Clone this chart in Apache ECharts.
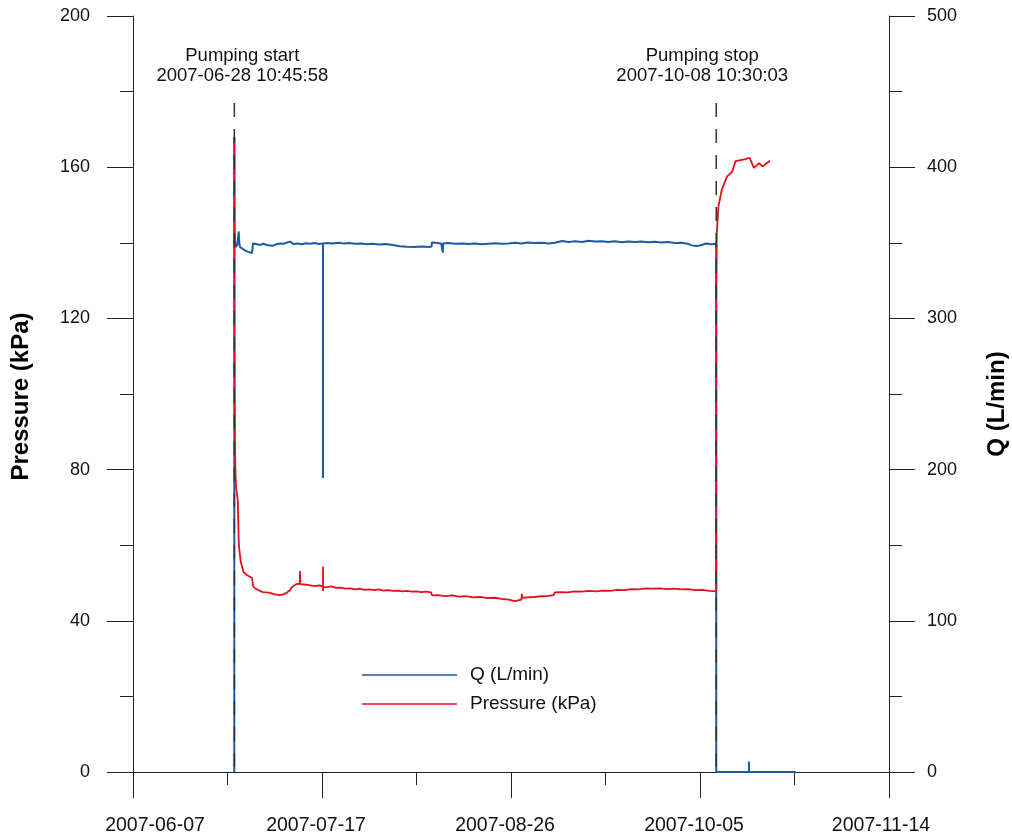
<!DOCTYPE html>
<html>
<head>
<meta charset="utf-8">
<title>Pumping test – pressure and flow</title>
<script src="https://cdn.jsdelivr.net/npm/echarts@6/dist/echarts.min.js"></script>
<style>
  html, body { margin: 0; padding: 0; background: #fff; }
  #chart { width: 1012px; height: 839px; }
</style>
</head>
<body>
<div id="chart"></div>
<script>
// Time is expressed in days since the axis origin (2007-06-07 00:00).
const originDate = '2007-06-07 00:00:00';
const dateTicks = ['2007-06-07', '2007-07-17', '2007-08-26', '2007-10-05', '2007-11-14'];

const events = ['Pumping start', 'Pumping stop'];
const eventTimes = ['2007-06-28 10:45:58', '2007-10-08 10:30:03'];

// Flow rate Q (L/min)
const qDays = [21.440, 21.445, 21.50, 21.59, 21.80, 22.10, 22.37, 22.50, 22.65, 23.2, 23.7, 24.4, 25.19, 25.40,
  26.0, 26.9, 27.6, 28.5, 29.5, 30.3, 31.1, 31.9, 32.6, 33.3, 33.9, 34.8, 35.7, 36.6, 37.5, 38.4, 39.3,
  40.20, 40.21, 40.22, 41.2, 42.3, 43.5, 44.6, 45.8, 47.0, 48.3, 49.5, 50.7, 52.0, 53.4, 55.0, 56.5, 58.0,
  59.5, 61.0, 62.6, 63.20, 63.25, 64.0, 65.2, 65.55, 65.58, 65.62, 66.8, 68.2, 69.6, 71.0, 72.4, 73.8,
  75.2, 76.6, 78.0, 79.4, 80.8, 82.2, 83.6, 85.0, 86.5, 88.0, 89.3, 89.5, 90.8, 92.2, 93.6, 95.0, 96.4,
  97.8, 99.2, 100.6, 102.0, 103.4, 104.8, 106.2, 107.6, 109.0, 110.4, 111.8, 113.2, 114.6, 116.0, 117.4,
  118.2, 119.2, 120.0, 120.4, 121.3, 122.3, 123.43, 123.44, 130.35, 130.36, 130.37, 140.3];
const qFlow = [0, 420, 360, 350.5, 347.2, 349, 357.5, 350, 347.2, 346, 345, 344, 343.3, 349.6,
  349.2, 348.6, 349.4, 348.3, 348.0, 349.0, 349.6, 349.3, 350.2, 350.8, 349.2, 349.6, 349.1, 349.7, 349.3, 349.8, 349.2,
  349.6, 194.4, 349.5, 349.9, 349.5, 350.1, 349.6, 349.9, 349.3, 349.6, 349.1, 349.4, 348.9, 349.2, 348.6, 347.7, 347.4,
  347.2, 347.6, 347.3, 347.5, 350.2, 350.0, 349.6, 349.8, 343.5, 349.5, 349.8, 349.3, 349.6, 349.2, 349.5, 349.0,
  349.4, 349.7, 349.3, 349.6, 350.0, 349.6, 350.2, 349.8, 350.0, 349.6, 350.0, 350.9, 351.2, 350.6, 351.0, 350.5, 351.3,
  350.8, 351.1, 350.6, 351.0, 350.4, 350.9, 350.5, 350.8, 350.3, 350.7, 350.2, 350.5, 349.9, 350.1, 349.4,
  348.3, 347.9, 348.2, 349.3, 349.5, 349.0, 349.3, 0, 0, 7, 0, 0];

// Pressure (kPa)
const pDays = [21.440, 21.455, 21.47, 21.52, 21.59, 21.70, 21.80, 22.0, 22.2, 22.35, 22.45, 22.8, 23.1, 23.4,
  24.0, 24.5, 25.2, 25.4, 25.8, 26.2, 26.9, 27.5, 28.3, 29.0, 30.0, 31.0, 31.8, 32.5, 33.2, 33.5, 33.8, 34.5,
  35.3, 35.35, 35.40, 36.2, 37.0, 37.4, 37.8, 38.6, 39.4, 40.20, 40.21, 40.22, 40.23, 41.0, 42.0, 43.0, 44.0,
  45.0, 46.0, 47.0, 48.0, 49.0, 50.0, 51.0, 52.0, 53.0, 54.0, 55.0, 56.0, 57.0, 58.0, 59.0, 60.0, 61.0, 62.0,
  63.1, 63.3, 64.5, 66.0, 67.5, 69.0, 70.5, 72.0, 73.5, 75.0, 76.5, 78.0, 79.5, 80.8, 81.5, 82.2, 82.3, 82.4,
  83.5, 85.0, 86.5, 88.0, 89.0, 89.3, 90.5, 92.0, 93.5, 95.0, 96.5, 98.0, 99.5, 101.0, 102.5, 104.0, 105.5,
  107.0, 108.5, 110.0, 111.5, 113.0, 114.5, 116.0, 117.5, 119.0, 120.5, 122.0, 123.43, 123.44, 123.45, 123.55,
  123.9, 124.6, 125.7, 126.8, 127.5, 128.3, 129.4, 130.5, 131.4, 132.5, 133.2, 134.8];
const pKpa = [168, 150, 125, 100, 84.4, 79, 75.4, 73.5, 71.5, 62, 59.5, 55.6, 54.2, 52.9,
  52.2, 51.8, 51.4, 49.2, 48.6, 48.1, 47.9, 47.6, 47.5, 47.4, 47.0, 46.8, 47.0, 47.4, 48.1, 48.7, 49.1, 49.7,
  49.8, 53.2, 49.7, 49.6, 49.5, 49.9, 49.3, 49.2, 49.4, 49.1, 54.3, 47.9, 49.0, 48.9, 49.1, 48.7, 48.8,
  48.5, 48.6, 48.3, 48.5, 48.2, 48.3, 48.1, 48.3, 48.0, 48.1, 47.9, 48.0, 47.8, 47.9, 47.7, 47.8, 47.6, 47.7,
  47.5, 46.7, 46.8, 46.5, 46.7, 46.4, 46.5, 46.2, 46.3, 46.0, 46.1, 45.8, 45.6, 45.2, 45.4, 45.6, 47.1, 46.1,
  46.2, 46.3, 46.5, 46.6, 46.8, 47.5, 47.6, 47.5, 47.8, 47.7, 47.9, 47.8, 48.0, 47.9, 48.2, 48.1, 48.4,
  48.3, 48.6, 48.5, 48.6, 48.4, 48.5, 48.3, 48.4, 48.1, 48.2, 47.9, 47.8, 100, 130, 142.6,
  149.6, 154.0, 157.5, 158.8, 161.6, 161.8, 162.1, 162.5, 159.8, 161.1, 160.2, 161.7];

const dashTop = 177; // top of the event marker lines, kPa

function toMs(s) {
  const [d, t] = s.split(' ');
  const [y, m, dd] = d.split('-').map(Number);
  const [hh, mm, ss] = t.split(':').map(Number);
  return Date.UTC(y, m - 1, dd, hh, mm, ss);
}
function toDays(s) {
  return (toMs(s) - toMs(originDate)) / 86400000;
}
function zip(a, b) { return a.map((v, i) => [v, b[i]]); }

const FONT = '"Liberation Sans", Arial, sans-serif';
const BLUE = '#1f5aa6';
const RED = '#e3101c';

const eventOffsets = [[8, 0], [-14, 0]];
const eventSeries = events.map((name, i) => {
  const d = toDays(eventTimes[i]);
  return {
    name: name,
    type: 'line',
    yAxisIndex: 0,
    silent: true,
    z: 5,
    symbol: 'none',
    showSymbol: false,
    lineStyle: { color: '#333', width: 1.5, type: [14, 12] },
    data: [[d, dashTop], [d, 0]],
    markPoint: {
      silent: true,
      symbol: 'circle',
      symbolSize: 1,
      itemStyle: { color: 'rgba(0,0,0,0)' },
      data: [{
        coord: [d, dashTop],
        label: {
          show: true,
          position: 'top',
          distance: 17,
          offset: eventOffsets[i],
          formatter: name + '\n' + eventTimes[i],
          color: '#111',
          fontFamily: FONT,
          fontSize: 18.5,
          lineHeight: 20,
          align: 'center'
        }
      }]
    }
  };
});

const axisCommon = {
  axisLine: { show: true, onZero: false, lineStyle: { color: '#222', width: 1 } },
  axisTick: { show: true, inside: false, length: 26, lineStyle: { color: '#222', width: 1 } },
  minorTick: { show: true, splitNumber: 2, length: 13, lineStyle: { color: '#222', width: 1 } },
  splitLine: { show: false },
  minorSplitLine: { show: false }
};

const dateLabelStyle = { fontFamily: FONT, fontSize: 19.5, color: '#111' };

const chart = echarts.init(document.getElementById('chart'), null, { renderer: 'canvas' });
chart.setOption({
  animation: false,
  backgroundColor: '#fff',
  grid: { left: 133, right: 123, top: 16, bottom: 67, containLabel: false, outerBoundsMode: 'none' },
  legend: {
    data: ['Q (L/min)', 'Pressure (kPa)'],
    orient: 'vertical',
    left: 362,
    top: 665,
    padding: 0,
    itemGap: 9,
    icon: 'rect',
    itemWidth: 95,
    itemHeight: 1.3,
    textStyle: { fontFamily: FONT, fontSize: 19, color: '#111', lineHeight: 20, padding: [0, 0, 0, 8] }
  },
  xAxis: Object.assign({}, axisCommon, {
    type: 'value',
    min: 0,
    max: 160,
    interval: 40,
    axisLabel: {
      margin: 44,
      color: '#111',
      fontFamily: FONT,
      fontSize: 19.5,
      formatter: v => {
        const i = Math.round(v / 40);
        const txt = dateTicks[i] || '';
        return i === 0 ? '{first|' + txt + '}' : (i === dateTicks.length - 1 ? '{last|' + txt + '}' : '{mid|' + txt + '}');
      },
      rich: {
        first: Object.assign({ padding: [0, 0, 0, 44] }, dateLabelStyle),
        mid: Object.assign({ padding: [0, 12, 0, 0] }, dateLabelStyle),
        last: Object.assign({ padding: [0, 16, 0, 0] }, dateLabelStyle)
      }
    }
  }),
  yAxis: [
    Object.assign({}, axisCommon, {
      type: 'value',
      position: 'left',
      min: 0,
      max: 200,
      interval: 40,
      name: 'Pressure (kPa)',
      nameLocation: 'middle',
      nameRotate: 90,
      nameGap: 100,
      nameMoveOverlap: false,
      nameTextStyle: { fontFamily: FONT, fontSize: 24, fontWeight: 'bold', color: '#000', padding: [0, 5, 0, 0] },
      axisLabel: { margin: 43, color: '#111', fontFamily: FONT, fontSize: 18 }
    }),
    Object.assign({}, axisCommon, {
      type: 'value',
      position: 'right',
      min: 0,
      max: 500,
      interval: 100,
      name: 'Q (L/min)',
      nameLocation: 'middle',
      nameRotate: 90,
      nameGap: 96,
      nameMoveOverlap: false,
      nameTextStyle: { fontFamily: FONT, fontSize: 24, fontWeight: 'bold', color: '#000', padding: [0, 20, 0, 0] },
      axisLabel: { margin: 38, color: '#111', fontFamily: FONT, fontSize: 18 }
    })
  ],
  series: [
    {
      name: 'Q (L/min)',
      type: 'line',
      yAxisIndex: 1,
      showSymbol: false,
      symbol: 'none',
      z: 2,
      color: BLUE,
      lineStyle: { color: BLUE, width: 2 },
      data: zip(qDays, qFlow)
    },
    {
      name: 'Pressure (kPa)',
      type: 'line',
      yAxisIndex: 0,
      showSymbol: false,
      symbol: 'none',
      z: 3,
      color: RED,
      lineStyle: { color: RED, width: 1.8 },
      data: zip(pDays, pKpa)
    }
  ].concat(eventSeries)
});
</script>
</body>
</html>
